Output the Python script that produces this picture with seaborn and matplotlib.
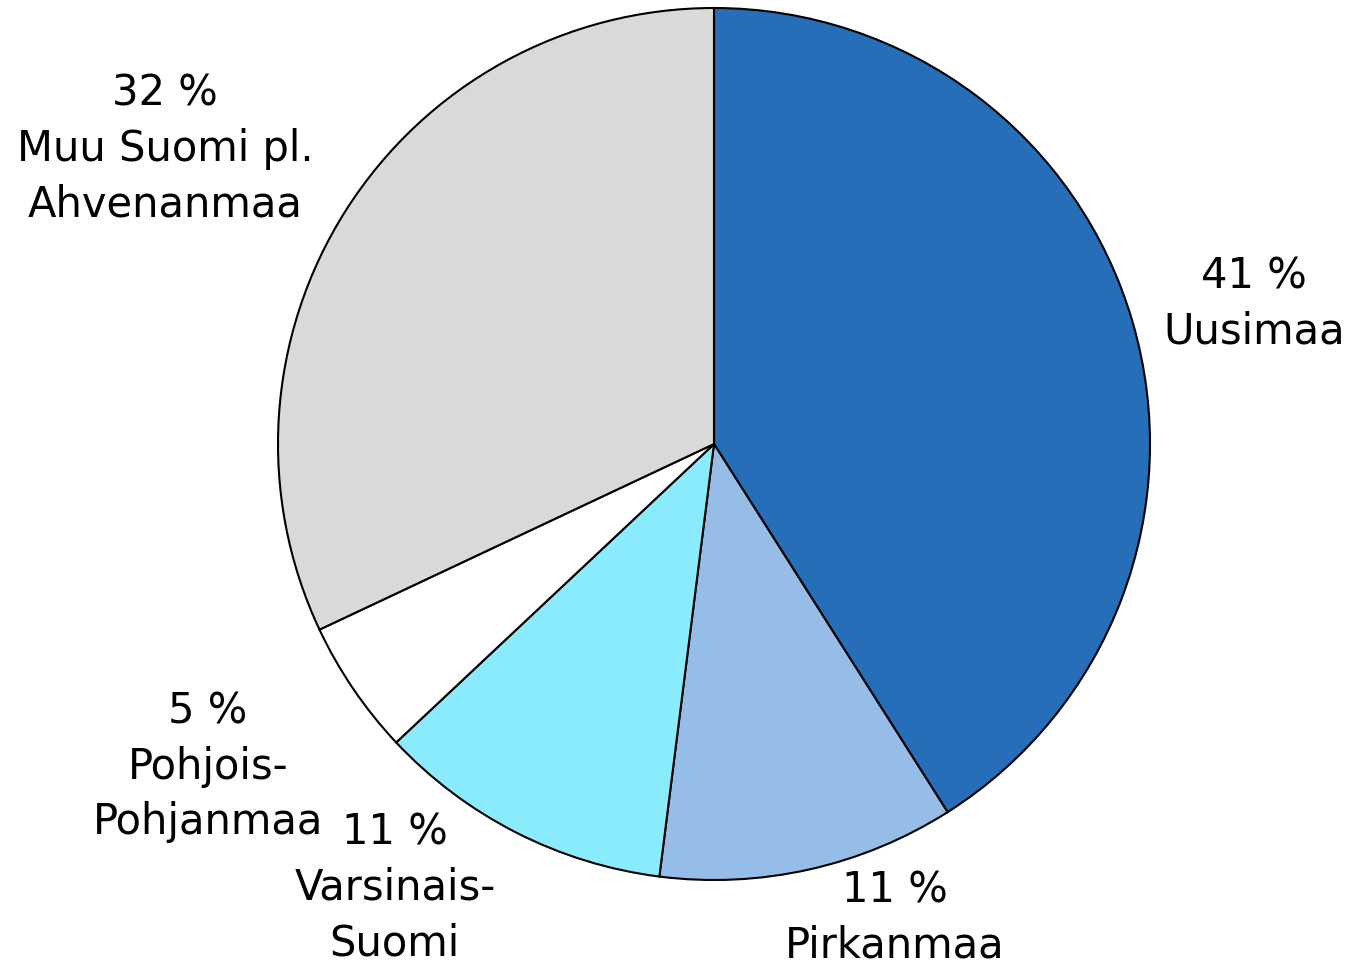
import matplotlib
matplotlib.use("Agg")
import matplotlib.pyplot as plt
import seaborn as sns

sns.set_theme(style="white")
plt.rcParams['font.family'] = ['DejaVu Sans']

# Data
regions = ['Uusimaa', 'Pirkanmaa', 'Varsinais-\nSuomi', 'Pohjois-\nPohjanmaa', 'Muu Suomi pl.\nAhvenanmaa']
shares = [41, 11, 11, 5, 32]
colors = ['#266EB8', '#95BDE8', '#8AEBFC', '#FFFFFF', '#D9D9D9']

# Label positions (data coords, pie radius = 1)
label_pos = [(1.239, 0.322), (0.415, -1.087), (-0.732, -1.018), (-1.161, -0.74), (-1.259, 0.677)]

fig = plt.figure(figsize=(13.51, 9.67), dpi=100)
ax = fig.add_axes([278 / 1351, (967 - 880) / 967, 872 / 1351, 872 / 967])

ax.pie(shares, colors=colors, startangle=90, counterclock=False,
       wedgeprops=dict(edgecolor='black', linewidth=1.5))

for name, val, (x, y) in zip(regions, shares, label_pos):
    ax.text(x, y, f'{val} %\n{name}', ha='center', va='center',
            fontsize=30, color='black', linespacing=1.4)

ax.set_xlim(-1, 1)
ax.set_ylim(-1, 1)
ax.set_aspect('equal')
ax.axis('off')

fig.savefig('out.png', dpi=100, facecolor='white')
